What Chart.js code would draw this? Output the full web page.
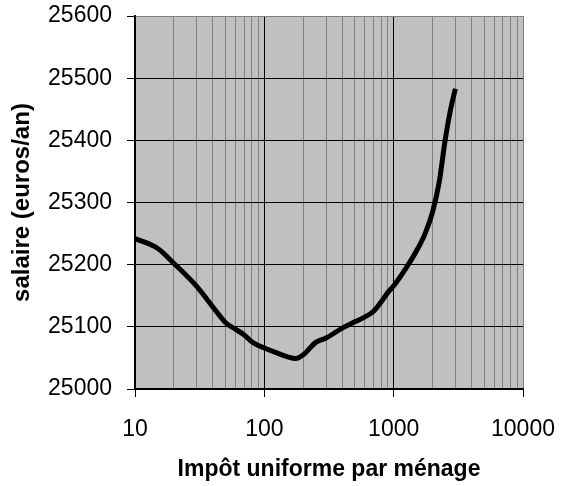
<!DOCTYPE html>
<html>
<head>
<meta charset="utf-8">
<script src="https://cdn.jsdelivr.net/npm/chart.js@4/dist/chart.umd.min.js"></script>
<style>
html,body{margin:0;padding:0;background:#fff;}
#wrap{width:562px;height:486px;}
</style>
</head>
<body>
<div id="wrap"><canvas id="c" width="562" height="486"></canvas></div>
<script>
const impot = [10, 15, 20, 30, 40, 50, 60, 70, 80, 90, 100, 125, 150, 175, 200, 250, 300, 400, 500, 600, 700, 800, 900, 1000, 1250, 1500, 1750, 2000, 2250, 2500, 2750, 3000];
const salaire = [25242, 25226, 25202, 25165, 25132, 25107, 25096, 25087, 25076, 25070, 25066, 25058, 25052, 25049, 25055, 25075, 25082, 25098, 25108, 25116, 25125, 25140, 25155, 25166, 25195, 25222, 25250, 25285, 25333, 25400, 25449, 25483];
const xTickValues = [10,20,30,40,50,60,70,80,90,100,200,300,400,500,600,700,800,900,1000,2000,3000,4000,5000,6000,7000,8000,9000,10000];
const xLabelValues = [10, 100, 1000, 10000];
const yTickValues = [25000, 25100, 25200, 25300, 25400, 25500, 25600];
const xTitle = 'Impôt uniforme par ménage';
const yTitle = 'salaire (euros/an)';

const points = impot.map((x, i) => ({x: x, y: salaire[i]}));

const bgPlugin = {
  id: 'plotBg',
  beforeDraw(chart) {
    const a = chart.chartArea, ctx = chart.ctx;
    ctx.save();
    ctx.fillStyle = '#C0C0C0';
    ctx.fillRect(a.left, a.top, a.right - a.left, a.bottom - a.top);
    ctx.restore();
  }
};

new Chart(document.getElementById('c'), {
  type: 'line',
  data: {
    datasets: [{
      data: points,
      borderColor: '#000',
      borderWidth: 5,
      pointRadius: 0,
      fill: false,
      cubicInterpolationMode: 'monotone'
    }]
  },
  options: {
    responsive: false,
    animation: false,
    devicePixelRatio: 1,
    layout: {padding: {left: 0, top: 16, right: 39, bottom: 0}},
    plugins: {legend: {display: false}, tooltip: {enabled: false}},
    scales: {
      x: {
        type: 'logarithmic',
        min: 10, max: 10000,
        afterBuildTicks(scale) {
          scale.ticks = xTickValues.map(v => ({value: v, major: xLabelValues.includes(v)}));
        },
        afterFit(scale) { scale.height = 97; scale.paddingLeft = 0; scale.paddingRight = 0; },
        ticks: {
          autoSkip: false,
          maxRotation: 0,
          padding: 19,
          color: '#000',
          font: {family: 'Liberation Sans, Arial, sans-serif', size: 23},
          callback: (v) => xLabelValues.includes(v) ? String(v) : ''
        },
        grid: {
          color: (ctx) => {
            const v = ctx.tick ? ctx.tick.value : 0;
            if (v === 10000) return '#808080';
            return (v === 10 || v === 100 || v === 1000) ? '#000' : '#808080';
          },
          tickColor: (ctx) => {
            const v = ctx.tick ? ctx.tick.value : 0;
            return xLabelValues.includes(v) ? '#000' : 'rgba(0,0,0,0)';
          },
          lineWidth: 1,
          tickLength: 8
        },
        border: {color: '#000', width: 2},
        title: {
          display: true,
          text: xTitle,
          color: '#000',
          font: {family: 'Liberation Sans, Arial, sans-serif', size: 23, weight: 'bold'},
          padding: {top: 0, bottom: 3}
        }
      },
      y: {
        type: 'linear',
        min: 25000, max: 25600,
        afterBuildTicks(scale) {
          scale.ticks = yTickValues.map(v => ({value: v}));
        },
        afterFit(scale) { scale.width = 135; scale.paddingTop = 0; scale.paddingBottom = 0; },
        ticks: {
          padding: 15,
          color: '#000',
          font: {family: 'Liberation Sans, Arial, sans-serif', size: 23},
          callback: (v) => String(v)
        },
        grid: {
          color: (ctx) => (ctx.tick && ctx.tick.value === 25600) ? '#808080' : '#000',
          tickColor: '#000',
          lineWidth: 1,
          tickLength: 8
        },
        border: {color: '#000', width: 2},
        title: {
          display: true,
          text: yTitle,
          color: '#000',
          font: {family: 'Liberation Sans, Arial, sans-serif', size: 24, weight: 'bold'},
          padding: {top: 8, bottom: 0}
        }
      }
    }
  },
  plugins: [bgPlugin]
});
</script>
</body>
</html>
